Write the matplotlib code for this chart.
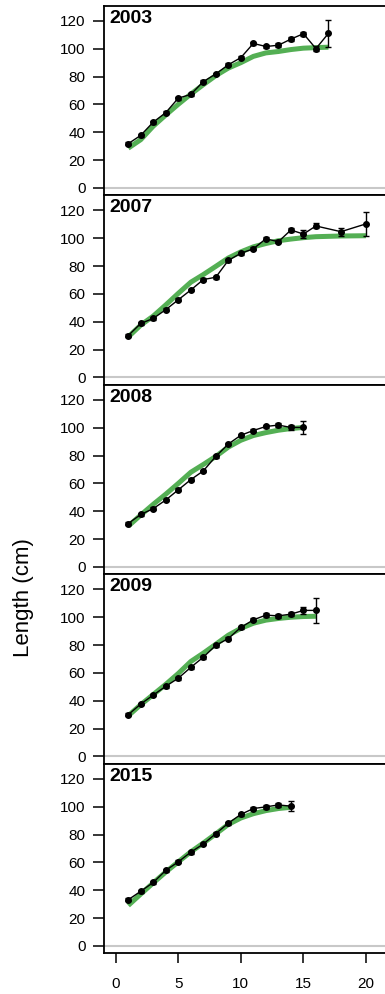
import numpy as np
import matplotlib
matplotlib.use("Agg")
import matplotlib.pyplot as plt

plt.rcParams["font.family"] = ["Liberation Sans", "DejaVu Sans"]

years = ["2003", "2007", "2008", "2009", "2015"]

# observed mean length at age (+ SE) per year
age_2003 = [1, 2, 3, 4, 5, 6, 7, 8, 9, 10, 11, 12, 13, 14, 15, 16, 17]
len_2003 = [31.8, 37.8, 47.3, 54.1, 64.5, 67.2, 76.4, 81.9, 88.5, 93.6, 103.8, 101.6, 102.5, 106.9, 110.8, 100.1, 111.0]
se_2003 = [1.0, 1.0, 1.0, 1.0, 1.0, 1.0, 1.0, 1.0, 1.0, 1.0, 1.2, 1.2, 1.5, 1.5, 1.5, 1.5, 9.5]

age_2007 = [1, 2, 3, 4, 5, 6, 7, 8, 9, 10, 11, 12, 13, 14, 15, 16, 18, 20]
len_2007 = [30.1, 38.8, 42.4, 48.7, 55.8, 62.8, 70.3, 72.0, 84.1, 89.2, 92.4, 99.6, 97.5, 105.9, 103.0, 108.8, 104.7, 110.3]
se_2007 = [1.0, 1.0, 1.0, 1.0, 1.0, 1.0, 1.0, 1.0, 1.0, 1.0, 1.0, 1.2, 1.2, 1.5, 2.7, 1.8, 3.0, 8.8]

age_2008 = [1, 2, 3, 4, 5, 6, 7, 8, 9, 10, 11, 12, 13, 14, 15]
len_2008 = [31.2, 37.7, 41.9, 48.1, 55.4, 62.7, 69.0, 79.4, 88.3, 94.6, 98.0, 100.9, 101.9, 100.2, 100.2]
se_2008 = [1.0, 1.0, 1.0, 1.0, 1.0, 1.0, 1.0, 1.0, 1.0, 1.0, 1.2, 1.2, 1.5, 1.5, 4.8]

age_2009 = [1, 2, 3, 4, 5, 6, 7, 8, 9, 10, 11, 12, 13, 14, 15, 16]
len_2009 = [30.0, 37.7, 44.1, 50.4, 56.2, 64.0, 71.3, 79.8, 84.7, 92.7, 98.1, 101.5, 101.0, 102.2, 104.9, 104.9]
se_2009 = [1.0, 1.0, 1.0, 1.0, 1.0, 1.0, 1.0, 1.0, 1.0, 1.0, 1.0, 1.2, 1.2, 1.5, 2.7, 9.2]

age_2015 = [1, 2, 3, 4, 5, 6, 7, 8, 9, 10, 11, 12, 13, 14]
len_2015 = [33.2, 39.3, 45.6, 54.3, 60.4, 67.4, 73.2, 80.7, 88.2, 94.5, 98.7, 99.9, 101.3, 100.4]
se_2015 = [1.0, 1.0, 1.0, 1.0, 1.0, 1.0, 1.0, 1.0, 1.0, 1.0, 1.0, 1.2, 1.2, 3.5]

# model fit (green)
fit_2003 = [28.6, 34.7, 44.4, 52.4, 60.1, 67.4, 74.2, 80.7, 86.1, 90.0, 94.5, 97.0, 98.0, 99.4, 100.4, 100.8, 101.1]
fit_2007 = [29.1, 37.6, 44.1, 52.1, 60.4, 68.4, 73.9, 79.8, 85.8, 90.2, 93.8, 96.2, 98.2, 99.4, 100.4, 101.1, 101.6, 101.8]
fit_2008 = [29.3, 37.3, 45.0, 52.3, 60.0, 68.0, 73.6, 79.4, 86.1, 91.0, 94.4, 96.5, 98.2, 99.4, 100.2]
fit_2009 = [29.2, 37.2, 44.5, 51.8, 59.6, 68.2, 74.2, 80.6, 87.1, 92.0, 95.7, 97.9, 99.1, 100.0, 100.5, 100.7]
fit_2015 = [29.1, 37.3, 45.3, 53.1, 60.4, 67.6, 73.9, 80.5, 87.3, 91.9, 95.0, 97.2, 98.7, 99.6]

ages = [age_2003, age_2007, age_2008, age_2009, age_2015]
lens = [len_2003, len_2007, len_2008, len_2009, len_2015]
ses = [se_2003, se_2007, se_2008, se_2009, se_2015]
fits = [fit_2003, fit_2007, fit_2008, fit_2009, fit_2015]

W, H = 385, 994
fig = plt.figure(figsize=(W / 100, H / 100), dpi=100)

left, right = 103.7, 391.0
top, ph = 5.5, 189.5
for i, yr in enumerate(years):
    y0 = top + ph * (i + 1)
    ax = fig.add_axes([left / W, 1 - y0 / H, (right - left) / W, ph / H])
    ax.axhline(0, color="#c8c8c8", lw=1.5, zorder=1)
    ax.plot(ages[i], fits[i], color="#45a845", lw=3.6, alpha=0.92, zorder=2,
            solid_capstyle="butt")
    ax.errorbar(ages[i], lens[i], yerr=ses[i], color="black", lw=1.0,
                marker="o", ms=4.0, elinewidth=1.0, capsize=2.4, capthick=1.0, zorder=3)
    ax.text(0.02, 0.978, yr, transform=ax.transAxes, ha="left", va="top",
            fontsize=14, fontweight="bold")
    ax.set_xlim(-0.96, 22)
    ax.set_ylim(-5.04, 131.04)
    ax.set_yticks([0, 20, 40, 60, 80, 100, 120])
    ax.tick_params(axis="y", direction="out", length=8, width=1.1, pad=5, labelsize=11)
    if i == len(years) - 1:
        ax.set_xticks([0, 5, 10, 15, 20])
        ax.tick_params(axis="x", direction="out", length=7.5, width=1.1, pad=10, labelsize=11)
    else:
        ax.set_xticks([])
    for s in ax.spines.values():
        s.set_linewidth(1.3)

fig.text(23 / W, 1 - 598 / H, "Length (cm)", rotation=90, ha="center", va="center",
         fontsize=16)

fig.savefig("out.png", dpi=100)
